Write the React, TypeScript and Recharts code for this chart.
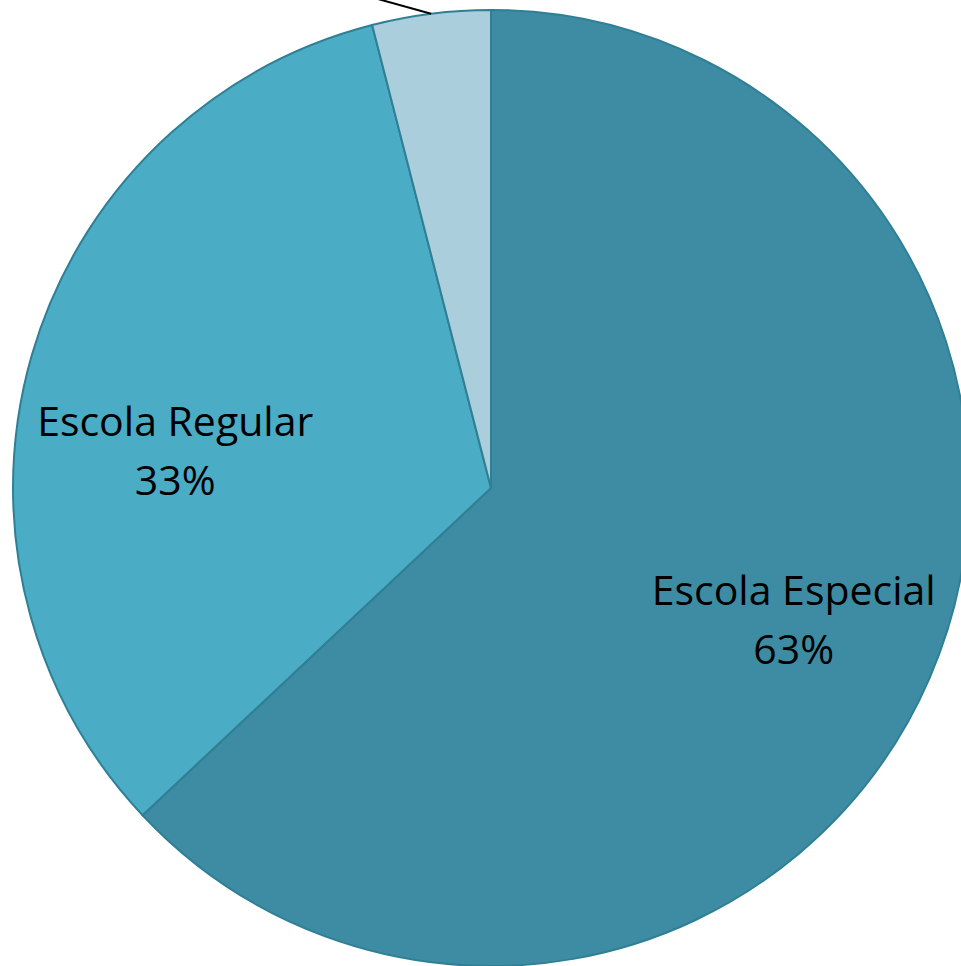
import { PieChart, Pie, Cell } from "recharts";

const categories = ["Escola Especial", "Escola Regular", "Outros"];
const shares = [63, 33, 4];
const colors = ["#3D8CA3", "#4BACC6", "#AACEDC"];

const data = categories.map((name, i) => ({ name, value: shares[i] }));

const RAD = Math.PI / 180;

// PowerPoint "best fit" style placement: inside labels for the big slices,
// the tiny slice gets an outside label (cropped off the top in the source)
const renderLabel = (props: any) => {
  const { cx, cy, midAngle, outerRadius, index, name, percent } = props;
  if (index === 2) {
    const sx = cx + outerRadius * Math.cos(-midAngle * RAD);
    const sy = cy + outerRadius * Math.sin(-midAngle * RAD);
    return (
      <path
        d={`M${sx},${sy}L${sx - sy / 0.28 - 4},-1`}
        stroke="#000"
        strokeWidth={2}
        fill="none"
      />
    );
  }
  const angle = index === 1 ? midAngle + 9.7 : midAngle;
  const r = outerRadius * (index === 1 ? 0.665 : 0.69);
  const x = cx + r * Math.cos(-angle * RAD);
  const y = cy + r * Math.sin(-angle * RAD);
  return (
    <text
      x={x}
      y={y}
      textAnchor="middle"
      fill="#000"
      style={{ fontFamily: "'Open Sans', sans-serif", fontSize: 41 }}
    >
      <tspan x={x} dy={index === 1 ? -16 : -14}>{name}</tspan>
      <tspan x={x} dy={59}>{`${Math.round(percent * 100)}%`}</tspan>
    </text>
  );
};

export default function App() {
  return (
    <div style={{ position: "absolute", left: 0, top: 0, width: 961, height: 966, overflow: "hidden", background: "#fff" }}>
      <PieChart width={961} height={966} margin={{ top: 0, right: 0, bottom: 0, left: 0 }}>
        <Pie
          data={data}
          dataKey="value"
          nameKey="name"
          cx={491}
          cy={488}
          outerRadius={478}
          startAngle={90}
          endAngle={-270}
          stroke="#2F7F95"
          strokeWidth={2}
          label={renderLabel}
          labelLine={false}
          isAnimationActive={false}
        >
          {data.map((entry, index) => (
            <Cell key={`cell-${index}`} fill={colors[index]} />
          ))}
        </Pie>
      </PieChart>
    </div>
  );
}
